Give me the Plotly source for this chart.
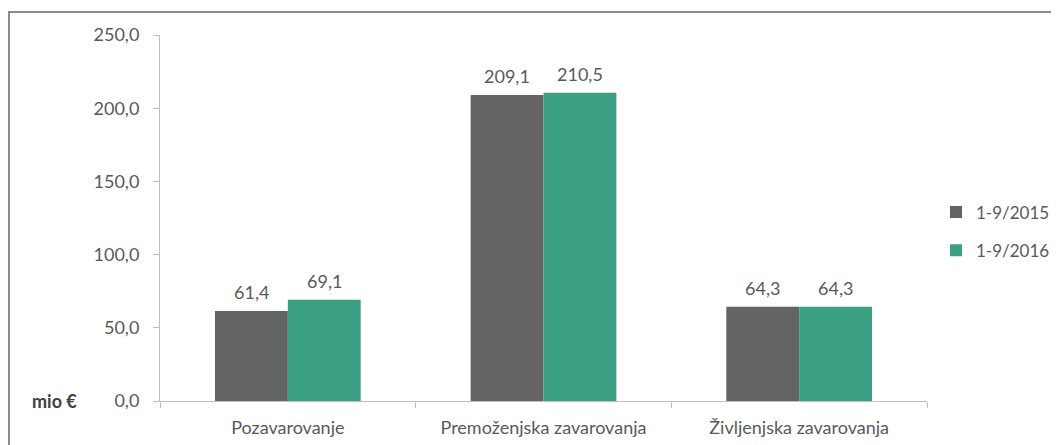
import plotly.graph_objects as go

categories = ["Pozavarovanje", "Premoženjska zavarovanja", "Življenjska zavarovanja"]
series_names = ["1-9/2015", "1-9/2016"]
values_2015 = [61.4, 209.1, 64.3]
values_2016 = [69.1, 210.5, 64.3]
y_ticks = [0, 50, 100, 150, 200, 250]

colors = ["#646464", "#3BA083"]
FONT = "Lato"
TXT = "#595959"

# the page body has an 8px margin: figure coords = screen coords - 8
OFF = 8
W, H = 1059 - OFF, 445 - OFF
L, T = 160 - OFF, 35 - OFF
PR, PB = 927 - OFF, 401 - OFF
R, B = W - PR, H - PB
pw, ph = PR - L, PB - T
BARGAP = 0.43

def fmt(v):
    return f"{v:.1f}".replace(".", ",")

def px2paper_x(px):
    return (px - OFF - L) / pw

def px2paper_y(py):
    return (PB - (py - OFF)) / ph

fig = go.Figure()
for name, vals, col in zip(series_names, [values_2015, values_2016], colors):
    fig.add_trace(go.Bar(
        x=categories, y=vals, name=name, marker=dict(color=col, line=dict(width=0)),
        legendgroup=name,
    ))

cat_w = pw / len(categories)
bar_w = cat_w * (1 - BARGAP) / 2
annotations = []
for i, vals in enumerate([values_2015, values_2016]):
    shift = (i - 0.5) * bar_w
    for c, v in zip(categories, vals):
        annotations.append(dict(x=c, y=v, xref="x", yref="y", text=fmt(v),
                                showarrow=False, xanchor="center", yanchor="middle",
                                xshift=shift, yshift=19,
                                font=dict(family=FONT, size=18, color=TXT)))
annotations.append(dict(text="<b>mio €</b>", xref="paper", yref="paper",
                        x=px2paper_x(54), y=px2paper_y(401), xanchor="center", yanchor="middle",
                        showarrow=False, font=dict(family=FONT, size=18, color="#404040")))

fig.update_layout(
    width=W, height=H,
    margin=dict(l=L, r=R, t=T, b=B, pad=0, autoexpand=False),
    paper_bgcolor="white", plot_bgcolor="white",
    barmode="group", bargap=BARGAP, bargroupgap=0,
    separators=",.",
    font=dict(family=FONT, size=18, color=TXT),
    showlegend=True,
    legend=dict(x=px2paper_x(936), y=px2paper_y(231.5), xanchor="left", yanchor="middle",
                font=dict(family=FONT, size=17, color=TXT),
                tracegroupgap=13, itemwidth=30, bgcolor="rgba(0,0,0,0)"),
    xaxis=dict(showline=True, linecolor="#bfbfbf", linewidth=1, automargin=False,
               ticks="outside", tickson="boundaries", ticklen=6, tickcolor="#bfbfbf",
               tickfont=dict(family=FONT, size=18, color=TXT), showgrid=False,
               ticklabelstandoff=10),
    yaxis=dict(range=[0, 250], tickvals=y_ticks, ticktext=[fmt(v) for v in y_ticks],
               showline=True, linecolor="#bfbfbf", linewidth=1, automargin=False,
               ticks="outside", ticklen=6, tickcolor="#bfbfbf",
               tickfont=dict(family=FONT, size=18, color=TXT),
               showgrid=False, zeroline=False, ticklabelstandoff=10),
    shapes=[dict(type="rect", xref="paper", yref="paper",
                 x0=px2paper_x(9), x1=px2paper_x(1058),
                 y0=px2paper_y(470), y1=px2paper_y(12),
                 line=dict(color="#8c8c8c", width=2), fillcolor="rgba(0,0,0,0)",
                 layer="below")],
    annotations=annotations,
)

fig.write_html("out.html")
